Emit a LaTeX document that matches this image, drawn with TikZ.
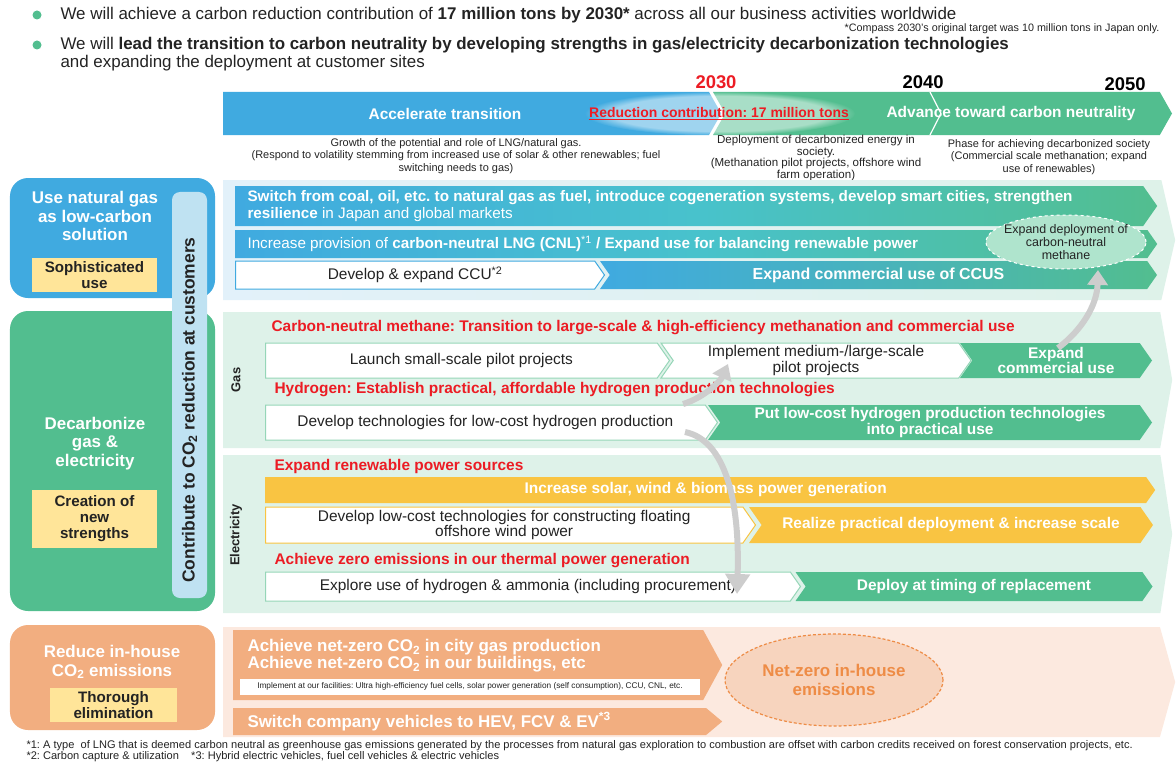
\documentclass[tikz,border=0pt]{standalone}
\usepackage{fontspec}
\setmainfont{Liberation Sans}
\usepackage{tikz}
\usetikzlibrary{shapes.symbols,shapes.geometric,arrows.meta,fadings,positioning}

\definecolor{tgBlue}{RGB}{64,170,224}
\definecolor{tgTeal}{RGB}{72,194,204}
\definecolor{tgGreen}{RGB}{82,190,143}
\definecolor{tgEdge}{RGB}{150,214,184}
\definecolor{tgPale}{RGB}{222,242,233}
\definecolor{tgSky}{RGB}{226,241,250}
\definecolor{tgMint}{RGB}{175,228,205}
\definecolor{tgYellow}{RGB}{249,196,66}
\definecolor{tgTag}{RGB}{255,229,153}
\definecolor{tgOrange}{RGB}{242,174,128}
\definecolor{tgPeach}{RGB}{252,233,223}
\definecolor{tgSalmon}{RGB}{247,212,190}
\definecolor{tgRust}{RGB}{238,140,70}
\definecolor{tgRed}{RGB}{236,28,36}
\definecolor{tgBar}{RGB}{191,226,242}
\definecolor{tgInk}{RGB}{35,35,35}
\definecolor{tgShade}{RGB}{205,205,205}

\newcommand{\fs}[2]{\fontsize{#1}{#2}\selectfont}

\begin{document}
\frenchspacing
\begin{tikzpicture}[x=1bp,y=-1bp,
	chev/.style={signal,signal to=east,signal pointer angle=110,inner sep=0pt,align=center},
	notch/.style={signal from=west},
	panelbg/.style={signal,signal to=east,inner sep=0pt,anchor=west},
	flowbar/.style={chev,left color=tgBlue,right color=tgGreen,middle color=tgTeal,text=white,font=\bfseries\fs{15.3}{17}},
	blankbar/.style={chev,fill=white,draw=tgEdge,line width=1bp,text=tgInk,font=\fs{15.5}{16}},
	greenbar/.style={chev,fill=tgGreen,text=white,font=\bfseries\fs{15.5}{16}},
	sunbar/.style={chev,fill=tgYellow,text=white,font=\bfseries\fs{15.5}{16}},
	claybar/.style={chev,fill=tgOrange,anchor=west},
	redhead/.style={anchor=west,text=tgRed,font=\bfseries\fs{15.5}{17}},
	sidebox/.style={rounded corners=18bp,minimum width=205bp,inner sep=0pt},
	sidetitle/.style={text=white,font=\bfseries\fs{17}{18.5},align=center},
	sidetag/.style={fill=tgTag,text=tgInk,font=\bfseries\fs{15.2}{16},align=center,inner sep=0pt},
	phase/.style={text=tgInk,font=\fs{11}{12.5},align=center},
	yearlbl/.style={font=\bfseries\fs{18.5}{20}},
	sidelbl/.style={rotate=90,text=tgInk,font=\bfseries\fs{13}{14}},
	hint/.style={draw=tgShade,line width=6bp,-{Triangle[length=15bp,width=20bp]}},
	foot/.style={anchor=west,text=tgInk,font=\fs{11.1}{11}}]
	\useasboundingbox (0,0) rectangle (1176,767);

	\node[circle,fill=tgGreen,minimum size=9bp,inner sep=0pt] (dotA) at (37,15) {};
	\node[circle,fill=tgGreen,minimum size=9bp,inner sep=0pt] (dotB) at (37,45) {};
	\node[anchor=west,text=tgInk,font=\fs{17}{18}] (lineA) at (57,15) {We will achieve a carbon reduction contribution of \textbf{17 million tons by 2030*} across all our business activities worldwide};
	\node[anchor=east,text=tgInk,font=\fs{10.8}{11}] (noteA) at (1163,29) {*Compass 2030's original target was 10 million tons in Japan only.};
	\node[anchor=west,text=tgInk,font=\fs{17}{18}] (lineB) at (57,45) {We will \textbf{lead the transition to carbon neutrality by developing strengths in gas/electricity decarbonization technologies}};
	\node[anchor=west,text=tgInk,font=\fs{17}{18}] (lineC) at (57,63) {and expanding the deployment at customer sites};

	\node[yearlbl,text=tgRed] (yr30) at (716,82) {2030};
	\node[yearlbl,text=black] (yr40) at (923,82) {2040};
	\node[yearlbl,text=black] (yr50) at (1125,84) {2050};

	\node[chev,notch,fill=tgGreen,signal pointer angle=121,minimum width=459bp,minimum height=43bp] (tlLate) at (942.5,113.5) {};
	\node[chev,fill=tgBlue,anchor=west,signal pointer angle=121,minimum width=498bp,minimum height=43bp] (tlEarly) at (223,113.5) {};
	\draw[white,line width=1.2bp] (930,92) -- (941,113.5) -- (930,135);
	\fill[white,path fading=circle with fuzzy edge 20 percent,fill opacity=0.5] (720,113.5) ellipse [x radius=135bp,y radius=22bp];
	\node[text=white,font=\bfseries\fs{15.5}{17}] (tlEarlyTxt) at (445,114) {Accelerate transition};
	\node[text=tgRed,font=\bfseries\fs{14}{16}] (tlGoal) at (719,114) {\underline{Reduction contribution: 17 million tons}};
	\node[text=white,font=\bfseries\fs{15.5}{17}] (tlLateTxt) at (1011,114) {Advance toward carbon neutrality};

	\node[phase] (phaseEarly) at (456,156) {Growth of the potential and role of LNG/natural gas.\\(Respond to volatility stemming from increased use of solar \& other renewables; fuel\\switching needs to gas)};
	\node[phase,font=\fs{11.6}{9.4}] (phaseMid) at (816,158) {Deployment of decarbonized energy in\\society.\\(Methanation pilot projects, offshore wind\\farm operation)};
	\node[phase] (phaseLate) at (1049,157) {Phase for achieving decarbonized society\\(Commercial scale methanation; expand\\use of renewables)};

	% left column
	\node[sidebox,fill=tgBlue,minimum height=120bp] (custBox) at (112.5,238) {};
	\node[sidebox,fill=tgGreen,minimum height=300bp] (decarbBox) at (112.5,461) {};
	\node[sidebox,fill=tgOrange,minimum height=105bp] (houseBox) at (112.5,677.5) {};
	\node[rotate=90,fill=tgBar,rounded corners=8bp,minimum width=406bp,minimum height=35bp,inner sep=0pt] (contrib) at (189.5,395) {};
	\node[rotate=90,text=tgInk,font=\bfseries\fs{17.5}{18}] (contribTxt) at (189.5,410) {Contribute to CO\textsubscript{2} reduction at customers};
	\node[sidetitle] (custTitle) at (95,216) {Use natural gas\\as low-carbon\\solution};
	\node[sidetag,minimum width=125bp,minimum height=34bp] (custTag) at (94.5,275) {Sophisticated\\use};
	\node[sidetitle] (decarbTitle) at (95,443.5) {Decarbonize\\gas \&\\electricity};
	\node[sidetag,minimum width=125bp,minimum height=58bp] (decarbTag) at (94.5,519) {Creation of\\new\\strengths};
	\node[sidetitle] (houseTitle) at (112,662) {Reduce in-house\\CO\textsubscript{2} emissions};
	\node[sidetag,minimum width=127bp,minimum height=34bp] (houseTag) at (113.5,705) {Thorough\\elimination};

	% customer panel
	\node[panelbg,left color=tgSky,right color=tgPale,signal pointer angle=154,minimum width=952bp,minimum height=120bp] (custPanel) at (223,240) {};
	\node[flowbar,anchor=west,minimum width=922bp,minimum height=40bp] (custSwitch) at (235,206) {};
	\node[anchor=west,text=white,font=\bfseries\fs{15.3}{17},align=left] (custSwitchTxt) at (244,206) {Switch from coal, oil, etc. to natural gas as fuel, introduce cogeneration systems, develop smart cities, strengthen\\resilience {\mdseries in Japan and global markets}};
	\node[flowbar,anchor=west,minimum width=922bp,minimum height=28bp] (custCnl) at (235,244) {};
	\node[anchor=west,text=white,font=\bfseries\fs{15.3}{17}] (custCnlTxt) at (244,244) {{\mdseries Increase provision of} carbon-neutral LNG (CNL)\textsuperscript{\mdseries *1} / Expand use for balancing renewable power};
	\node[blankbar,anchor=west,draw=tgBlue,minimum width=369bp,minimum height=28bp] (custCcu) at (235,275) {Develop \& expand CCU\textsuperscript{*2}};
	\node[flowbar,notch,middle color=tgBlue!55!tgGreen,font=\bfseries\fs{16}{17},minimum width=557bp,minimum height=28bp] (custCcus) at (878.5,275) {Expand commercial use of CCUS};
	\node[ellipse,fill=tgMint,draw=white,dashed,line width=1bp,minimum width=160bp,minimum height=54bp,inner sep=0pt] (custMethane) at (1066,242) {};
	\node[text=tgInk,font=\fs{12.5}{13.5},align=center] (custMethaneTxt) at (custMethane.center) {Expand deployment of\\carbon-neutral\\methane};

	% gas panel
	\node[panelbg,fill=tgPale,signal pointer angle=160,minimum width=949bp,minimum height=136bp] (gasPanel) at (223,380) {};
	\node[sidelbl] (gasLbl) at (236,380) {Gas};
	\node[redhead] (gasHeadA) at (268,328) {Carbon-neutral methane: Transition to large-scale \& high-efficiency methanation and commercial use};
	\node[blankbar,anchor=west,minimum width=404bp,minimum height=35bp] (gasPilot) at (265,360.5) {Launch small-scale pilot projects};
	\node[blankbar,notch,minimum width=310bp,minimum height=35bp] (gasScale) at (816,360.5) {Implement medium-/large-scale\\pilot projects};
	\node[greenbar,notch,minimum width=192bp,minimum height=35bp] (gasExpand) at (1056,360.5) {Expand\\commercial use};
	\node[redhead] (gasHeadB) at (271,390) {Hydrogen: Establish practical, affordable hydrogen production technologies};
	\node[blankbar,anchor=west,minimum width=452bp,minimum height=35bp] (gasHydro) at (265,422.5) {Develop technologies for low-cost hydrogen production};
	\node[greenbar,notch,minimum width=444bp,minimum height=35bp] (gasHydroUse) at (930,422.5) {Put low-cost hydrogen production technologies\\into practical use};

	% electricity panel
	\node[panelbg,fill=tgPale,signal pointer angle=163,minimum width=949bp,minimum height=158bp] (elecPanel) at (223,534) {};
	\node[sidelbl] (elecLbl) at (236,535) {Electricity};
	\node[redhead] (elecHeadA) at (271,467) {Expand renewable power sources};
	\node[sunbar,anchor=west,minimum width=890bp,minimum height=26bp] (elecRenew) at (265,490) {Increase solar, wind \& biomass power generation};
	\node[blankbar,anchor=west,draw=tgYellow,minimum width=490bp,minimum height=36bp] (elecWind) at (265,525) {Develop low-cost technologies for constructing floating\\offshore wind power};
	\node[sunbar,notch,minimum width=404bp,minimum height=36bp] (elecScale) at (951,525) {Realize practical deployment \& increase scale};
	\node[redhead] (elecHeadB) at (271,561) {Achieve zero emissions in our thermal power generation};
	\node[blankbar,anchor=west,minimum width=535bp,minimum height=29bp] (elecAmmonia) at (265,586.5) {Explore use of hydrogen \& ammonia (including procurement)};
	\node[greenbar,notch,minimum width=357bp,minimum height=29bp] (elecReplace) at (974,586.5) {Deploy at timing of replacement};

	% in-house panel
	\node[panelbg,fill=tgPeach,signal pointer angle=149,minimum width=952bp,minimum height=110bp] (housePanel) at (223,682) {};
	\node[claybar,signal pointer angle=123,minimum width=489bp,minimum height=70bp] (houseZero) at (233,665) {};
	\node[anchor=west,text=white,font=\bfseries\fs{17}{17},align=left] (houseZeroTxt) at (244,656) {Achieve net-zero CO\textsubscript{2} in city gas production\\Achieve net-zero CO\textsubscript{2} in our buildings, etc};
	\node[fill=white,minimum width=460bp,minimum height=16bp,inner sep=0pt,text=tgInk,font=\fs{8.3}{9}] (houseNote) at (470,686.5) {Implement at our facilities: Ultra high-efficiency fuel cells, solar power generation (self consumption), CCU, CNL, etc.};
	\node[claybar,signal pointer angle=80,minimum width=489bp,minimum height=27bp] (houseCars) at (233,721.5) {};
	\node[anchor=west,text=white,font=\bfseries\fs{17}{17}] (houseCarsTxt) at (244,721.5) {Switch company vehicles to HEV, FCV \& EV\textsuperscript{*3}};
	\node[ellipse,fill=tgSalmon,draw=tgRust,dash pattern=on 3bp off 2bp,line width=1.2bp,minimum width=218bp,minimum height=92bp,text=tgRust,font=\bfseries\fs{17}{19},align=center] (houseGoal) at (834,680) {Net-zero in-house\\emissions};

	% gray hints
	\coordinate (upTail) at (1058,348);
	\coordinate (upTip) at (1098,270);
	\coordinate (midTail) at (683,404);
	\coordinate (midTip) at (728,364);
	\coordinate (downTail) at (685,432);
	\coordinate (downTip) at (737,594);
	\draw[hint] (upTail) .. controls (1082,330) and (1097,305) .. (upTip);
	\draw[hint] (midTail) .. controls (703,398) and (720,382) .. (midTip);
	\draw[hint,-{Triangle[length=20bp,width=24bp]}] (downTail) .. controls (725,440) and (740,500) .. (downTip);

	\node[foot,align=left] (footNotes) at (23,751.5) {*1: A type\ \ of LNG that is deemed carbon neutral as greenhouse gas emissions generated by the processes from natural gas exploration to combustion are offset with carbon credits received on forest conservation projects, etc.\\*2: Carbon capture \& utilization\ \ \ \ *3: Hybrid electric vehicles, fuel cell vehicles \& electric vehicles};
\end{tikzpicture}
\end{document}
